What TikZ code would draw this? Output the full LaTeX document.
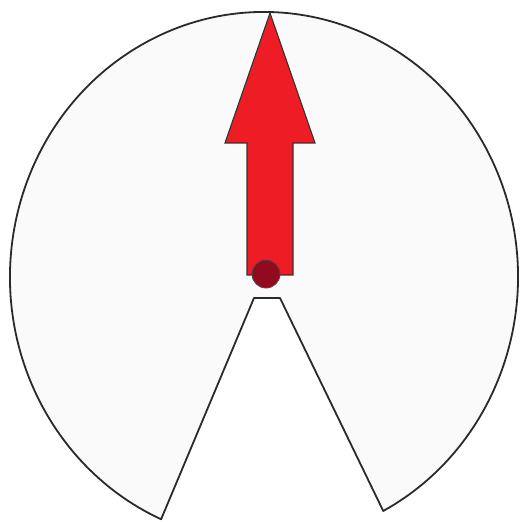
\documentclass[tikz,border=0pt]{standalone}
\usetikzlibrary{calc}
\definecolor{disk}{HTML}{FAFAFA}
\definecolor{edge}{HTML}{2A2A2A}
\definecolor{arrowred}{HTML}{EE1C25}
\definecolor{knob}{HTML}{920A1E}
\tikzset{
  diskstyle/.style={fill=disk,draw=edge,line width=1.8pt,line join=round},
  arrowstyle/.style={fill=arrowred,draw=black!80,line width=1.1pt,line join=miter},
  knobstyle/.style={fill=knob,draw=black!70,line width=0.9pt}
}
\begin{document}
\begin{tikzpicture}[x=1pt,y=1pt]
\useasboundingbox[fill=white] (0,0) rectangle (521,522);
\coordinate (c) at (264,245);
\path[diskstyle] (c) ++(-62:254 and 265) arc[start angle=-62,end angle=246.1,x radius=254,y radius=265]
  -- (254,224) -- (280,224) -- cycle;
\path[arrowstyle] (270,509) -- (315,379) -- (293,379) -- (293,247) -- (247,247) -- (247,379) -- (225,379) -- cycle;
\node[knobstyle,circle,minimum size=28pt,inner sep=0pt] (k) at (266,248) {};
\end{tikzpicture}
\end{document}
